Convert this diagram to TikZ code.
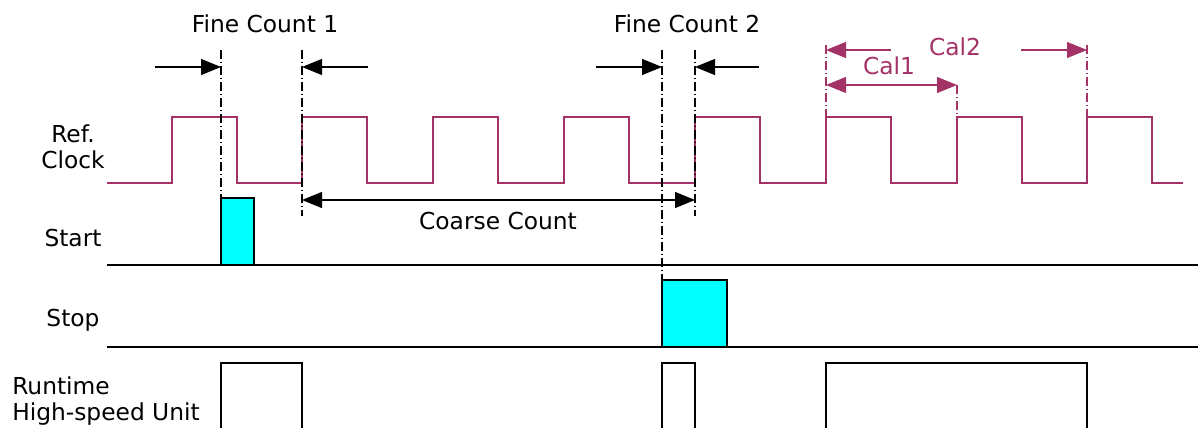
\documentclass[tikz,border=0pt]{standalone}
\usepackage{fontspec}
\setmainfont{DejaVu Sans}
\usetikzlibrary{arrows.meta}
\definecolor{clkred}{RGB}{163,50,103}
\definecolor{pulsecyan}{RGB}{0,255,255}

\begin{document}
\begin{tikzpicture}[x=0.75pt,y=-0.75pt,
                every node/.style={font=\fontsize{17.5}{19.5}\selectfont,inner sep=0pt},
                wave/.style={line width=1.1pt,line join=miter},
                clk/.style={wave,clkred},
                tick/.style={line width=0.8pt,dash pattern=on 7pt off 2pt on 1pt off 2pt},
                dim/.style={line width=0.9pt,-{Triangle[length=15pt,width=12pt]}},
                dimboth/.style={line width=0.9pt,{Triangle[length=15pt,width=12pt]}-{Triangle[length=15pt,width=12pt]}}]
                \useasboundingbox (0,0) rectangle (1198,428);
                \node[align=center] (refclk) at (73,147) {Ref.\\Clock};
                \node (start) at (73,238) {Start};
                \node (stop) at (73,320) {Stop};
                \node[align=left,anchor=west] (runtime) at (12,401) {Runtime\\High-speed Unit};
                \node (fine1) at (265,24) {Fine Count 1};
                \node (fine2) at (687,24) {Fine Count 2};
                \node (coarse) at (498,221) {Coarse Count};
                \node[text=clkred] (cal1) at (889,66) {Cal1};
                \node[text=clkred] (cal2) at (955,47) {Cal2};
                \draw[clk] (107,183) \foreach \r in {172,302,433,564,695,826,957,1087}
                        { -- (\r,183) -- (\r,117) -- (\r+65,117) -- (\r+65,183) } -- (1183,183);
                \filldraw[wave,fill=pulsecyan] (221,265) rectangle (254,198);
                \filldraw[wave,fill=pulsecyan] (662,347) rectangle (727,280);
                \draw[wave] (107,265) -- (1198,265);
                \draw[wave] (107,347) -- (1198,347);
                \draw[wave] (221,428) -- (221,363) -- (302,363) -- (302,428);
                \draw[wave] (662,428) -- (662,363) -- (695,363) -- (695,428);
                \draw[wave] (826,428) -- (826,363) -- (1087,363) -- (1087,428);
                \coordinate (t1) at (221,50);   \coordinate (b1) at (221,198);
                \coordinate (t2) at (302,50);   \coordinate (b2) at (302,216);
                \coordinate (t3) at (662,50);   \coordinate (b3) at (662,280);
                \coordinate (t4) at (695,50);   \coordinate (b4) at (695,216);
                \coordinate (t5) at (826,45);   \coordinate (b5) at (826,117);
                \coordinate (t6) at (957,85);   \coordinate (b6) at (957,117);
                \coordinate (t7) at (1087,45);  \coordinate (b7) at (1087,117);
                \draw[tick] (t1) -- (b1);
                \draw[tick] (t2) -- (b2);
                \draw[tick] (t3) -- (b3);
                \draw[tick] (t4) -- (b4);
                \draw[tick,clkred] (t5) -- (b5);
                \draw[tick,clkred] (t6) -- (b6);
                \draw[tick,clkred] (t7) -- (b7);
                \coordinate (f1a) at (155,67);  \coordinate (f1b) at (221,67);
                \coordinate (f1c) at (368,67);  \coordinate (f1d) at (302,67);
                \coordinate (f2a) at (596,67);  \coordinate (f2b) at (662,67);
                \coordinate (f2c) at (759,67);  \coordinate (f2d) at (695,67);
                \coordinate (cca) at (302,200); \coordinate (ccb) at (695,200);
                \coordinate (c1a) at (826,85);  \coordinate (c1b) at (957,85);
                \coordinate (c2a) at (891,50);  \coordinate (c2b) at (826,50);
                \coordinate (c2c) at (1021,50); \coordinate (c2d) at (1087,50);
                \draw[dim] (f1a) -- (f1b);
                \draw[dim] (f1c) -- (f1d);
                \draw[dim] (f2a) -- (f2b);
                \draw[dim] (f2c) -- (f2d);
                \draw[dimboth] (cca) -- (ccb);
                \draw[dimboth,clkred] (c1a) -- (c1b);
                \draw[dim,clkred] (c2a) -- (c2b);
                \draw[dim,clkred] (c2c) -- (c2d);
            \end{tikzpicture}
\end{document}
